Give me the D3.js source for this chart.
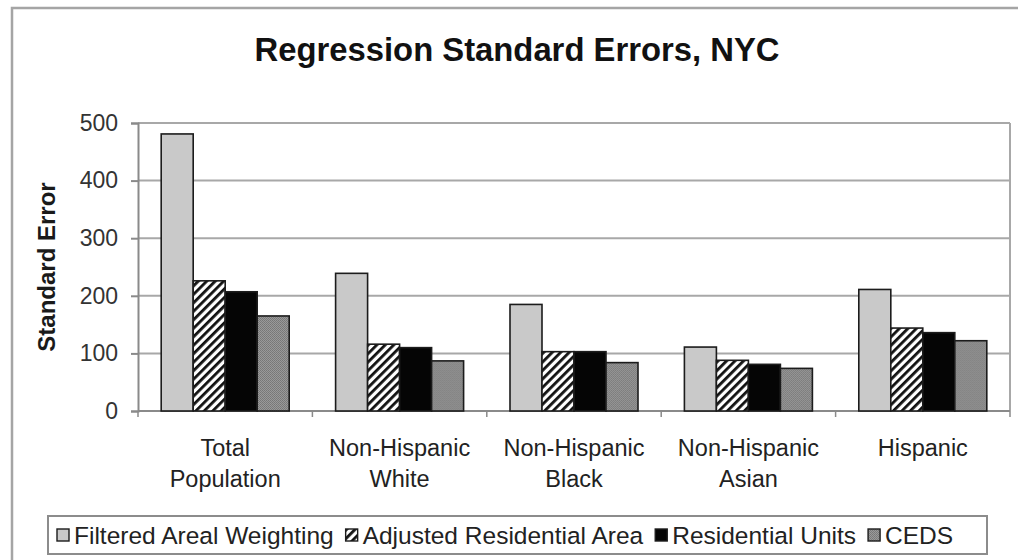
<!DOCTYPE html>
<html>
<head>
<meta charset="utf-8">
<script src="https://cdn.jsdelivr.net/npm/d3@7"></script>
<style>
  html, body { margin: 0; padding: 0; background: #fff; }
  svg { display: block; font-family: "Liberation Sans", Arial, sans-serif; }
</style>
</head>
<body>
<svg id="chart" width="1018" height="560"></svg>
<script>
// Regression standard errors by population group and method
const categories = [
  ["Total", "Population"],
  ["Non-Hispanic", "White"],
  ["Non-Hispanic", "Black"],
  ["Non-Hispanic", "Asian"],
  ["Hispanic"]
];
const seriesNames = [
  "Filtered Areal Weighting",
  "Adjusted Residential Area",
  "Residential Units",
  "CEDS"
];
const filteredArealWeighting = [481, 239, 185, 111, 211];
const adjustedResidentialArea = [226, 116, 103, 88, 144];
const residentialUnits = [207, 110, 103, 81, 136];
const ceds = [165, 87, 84, 74, 122];
const yTicks = [0, 100, 200, 300, 400, 500];

const seriesValues = [filteredArealWeighting, adjustedResidentialArea, residentialUnits, ceds];

const svg = d3.select("#chart");
const W = 1018, H = 560;

// patterns
const defs = svg.append("defs");
const hatch = defs.append("pattern")
  .attr("id", "hatch").attr("patternUnits", "userSpaceOnUse")
  .attr("width", 6).attr("height", 6)
  .attr("patternTransform", "rotate(45)");
hatch.append("rect").attr("width", 6).attr("height", 6).attr("fill", "#fff");
hatch.append("rect").attr("x", 0).attr("width", 2.8).attr("height", 6).attr("fill", "#111");

const dots = defs.append("pattern")
  .attr("id", "dots").attr("patternUnits", "userSpaceOnUse")
  .attr("width", 2).attr("height", 2);
dots.append("rect").attr("width", 2).attr("height", 2).attr("fill", "#9a9a9a");
dots.append("rect").attr("width", 1).attr("height", 1).attr("fill", "#777");
dots.append("rect").attr("x", 1).attr("y", 1).attr("width", 1).attr("height", 1).attr("fill", "#7c7c7c");

const fills = ["#c9c9c9", "url(#hatch)", "#050505", "url(#dots)"];

// outer chart frame
svg.append("rect")
  .attr("x", 12).attr("y", 8).attr("width", W + 20).attr("height", H + 20)
  .attr("fill", "#fff").attr("stroke", "#a5a5a5").attr("stroke-width", 2.5);

const plot = { left: 138, right: 1010, top: 123, bottom: 411 };

const x = d3.scaleBand()
  .domain(d3.range(categories.length))
  .range([plot.left, plot.right])
  .paddingInner(0).paddingOuter(0);

const xs = d3.scaleBand()
  .domain(d3.range(seriesNames.length))
  .range([0, x.bandwidth()])
  .paddingInner(0).paddingOuter(0.725);

const y = d3.scaleLinear().domain([0, 500]).range([plot.bottom, plot.top]);

// gridlines
svg.append("g").selectAll("line")
  .data(yTicks.filter(d => d > 0))
  .join("line")
  .attr("x1", plot.left).attr("x2", plot.right)
  .attr("y1", d => y(d)).attr("y2", d => y(d))
  .attr("stroke", "#a8a8a8").attr("stroke-width", 2);

// right edge of plot area
svg.append("line")
  .attr("x1", plot.right).attr("x2", plot.right)
  .attr("y1", plot.top).attr("y2", plot.bottom)
  .attr("stroke", "#a8a8a8").attr("stroke-width", 2);

// y axis
const yAxis = svg.append("g")
  .attr("transform", `translate(${plot.left},0)`)
  .call(d3.axisLeft(y).tickValues(yTicks).tickSize(7).tickPadding(13));
yAxis.select(".domain").attr("stroke", "#8a8a8a").attr("stroke-width", 2);
yAxis.selectAll(".tick line").attr("stroke", "#8a8a8a").attr("stroke-width", 2);
yAxis.selectAll(".tick text")
  .attr("fill", "#333").style("font-size", "23px")
  .attr("font-family", "'Liberation Sans', Arial, sans-serif");

// x axis baseline with boundary ticks
const xAxis = svg.append("g")
  .attr("transform", `translate(0,${plot.bottom})`);
xAxis.append("line")
  .attr("x1", plot.left).attr("x2", plot.right)
  .attr("stroke", "#8a8a8a").attr("stroke-width", 2);
xAxis.selectAll("line.tk")
  .data(d3.range(categories.length + 1))
  .join("line").attr("class", "tk")
  .attr("x1", i => plot.left + i * x.step()).attr("x2", i => plot.left + i * x.step())
  .attr("y1", 0).attr("y2", 6)
  .attr("stroke", "#8a8a8a").attr("stroke-width", 1.5);

// category labels
const catLabels = svg.append("g").selectAll("text")
  .data(categories)
  .join("text")
  .attr("text-anchor", "middle")
  .attr("fill", "#222")
  .style("font-size", "23.5px")
  .attr("transform", (d, i) => `translate(${x(i) + x.bandwidth() / 2},456)`);
catLabels.selectAll("tspan")
  .data(d => d)
  .join("tspan")
  .attr("x", 0)
  .attr("dy", (d, i) => i === 0 ? 0 : 31)
  .text(d => d);

// bars
const groups = svg.append("g").selectAll("g")
  .data(categories.map((c, i) => i))
  .join("g")
  .attr("transform", i => `translate(${x(i)},0)`);
groups.selectAll("rect")
  .data(i => seriesValues.map((vals, s) => ({ s, v: vals[i] })))
  .join("rect")
  .attr("x", d => xs(d.s))
  .attr("width", xs.bandwidth())
  .attr("y", d => y(d.v))
  .attr("height", d => y(0) - y(d.v))
  .attr("fill", d => fills[d.s])
  .attr("stroke", "#1c1c1c").attr("stroke-width", 1.6);

// title
svg.append("text")
  .attr("x", 517).attr("y", 61)
  .attr("text-anchor", "middle")
  .attr("font-weight", "bold")
  .attr("fill", "#111")
  .style("font-size", "32.8px")
  .text("Regression Standard Errors, NYC");

// y axis title
svg.append("text")
  .attr("transform", `translate(55,${(plot.top + plot.bottom) / 2}) rotate(-90)`)
  .attr("text-anchor", "middle")
  .attr("font-weight", "bold")
  .attr("fill", "#1a1a1a")
  .style("font-size", "24px")
  .text("Standard Error");

// legend
const legend = svg.append("g");
legend.append("rect")
  .attr("x", 48).attr("y", 516).attr("width", 939).attr("height", 38)
  .attr("fill", "#fff").attr("stroke", "#8c8c8c").attr("stroke-width", 2);

let lx = 57;
seriesNames.forEach((name, s) => {
  legend.append("rect")
    .attr("x", lx).attr("y", 529).attr("width", 12).attr("height", 12)
    .attr("fill", fills[s]).attr("stroke", "#1c1c1c").attr("stroke-width", 1.4);
  const t = legend.append("text")
    .attr("x", lx + 17).attr("y", 544)
    .attr("fill", "#222")
    .style("font-size", "24.5px")
    .text(name);
  lx += 17 + t.node().getComputedTextLength() + 12;
});
</script>
</body>
</html>
